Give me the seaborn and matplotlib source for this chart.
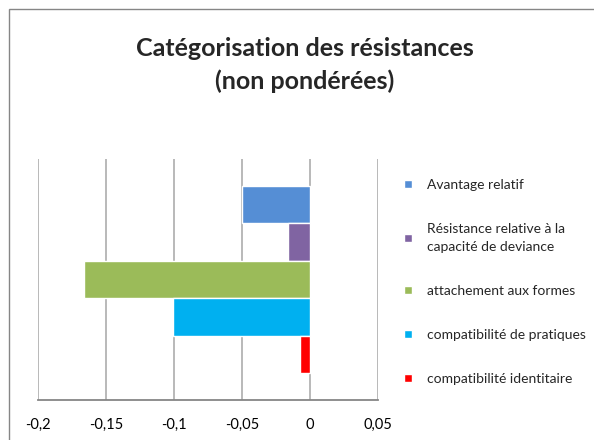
import matplotlib
matplotlib.use("Agg")
import matplotlib.pyplot as plt
from matplotlib.patches import Rectangle
import pandas as pd
import seaborn as sns

# data
series = [
    "Avantage relatif",
    "Résistance relative à la\ncapacité de deviance",
    "attachement aux formes",
    "compatibilité de pratiques",
    "compatibilité identitaire",
]
values = [-0.05, -0.016, -0.166, -0.101, -0.007]
colors = ["#558ED5", "#8064A2", "#9BBB59", "#00B0F0", "#FF0000"]
tick_vals = [-0.2, -0.15, -0.1, -0.05, 0, 0.05]
tick_labels = ["-0,2", "-0,15", "-0,1", "-0,05", "0", "0,05"]
title = "Catégorisation des résistances\n(non pondérées)"

sns.set_style("white")
plt.rcParams["font.family"] = ["Lato", "DejaVu Sans"]

df = pd.DataFrame({"groupe": [""] * len(series), "serie": series, "valeur": values})

fig = plt.figure(figsize=(5.94, 4.4), dpi=100)
ax = fig.add_axes([38 / 594, 1 - 400 / 440, 340 / 594, 241 / 440])

sns.barplot(
    data=df, x="valeur", y="groupe", hue="serie", hue_order=series,
    palette=colors, orient="h", width=0.78, saturation=1, dodge=True, ax=ax,
)

handles, labels = ax.get_legend_handles_labels()
ax.get_legend().remove()

ax.set_xlim(-0.2, 0.05)
ax.set_ylim(0.5, -0.5)
ax.set_xticks(tick_vals, labels=tick_labels)
ax.set_yticks([])
ax.set_xlabel("")
ax.set_ylabel("")
ax.xaxis.grid(True, color="#B3B3B3", linewidth=1.3)
ax.set_axisbelow(True)
for side in ["top", "right", "left"]:
    ax.spines[side].set_visible(False)
ax.spines["bottom"].set_color("#868686")
ax.spines["bottom"].set_linewidth(1.3)
ax.tick_params(axis="x", direction="out", length=4, width=1.2, color="#868686",
               pad=9, labelsize=10.5, labelcolor="black")

leg = fig.legend(
    handles, labels, loc="center left", bbox_to_anchor=(404 / 594, 1 - 282 / 440),
    frameon=False, fontsize=10, handlelength=0.55, handleheight=0.55,
    handletextpad=1.1, labelspacing=2.3, borderpad=0, borderaxespad=0,
)
for t in leg.get_texts():
    t.set_linespacing(1.6)

fig.text(305 / 594, 1 - 65 / 440, title, ha="center", va="center",
         fontsize=18, fontweight="bold", linespacing=1.5)

fig.patches.append(Rectangle((9 / 594, -0.1), 1.2, 1 - 9 / 440 + 0.1,
                             transform=fig.transFigure, fill=False,
                             edgecolor="#868686", linewidth=1))

fig.savefig("out.png", dpi=100)
